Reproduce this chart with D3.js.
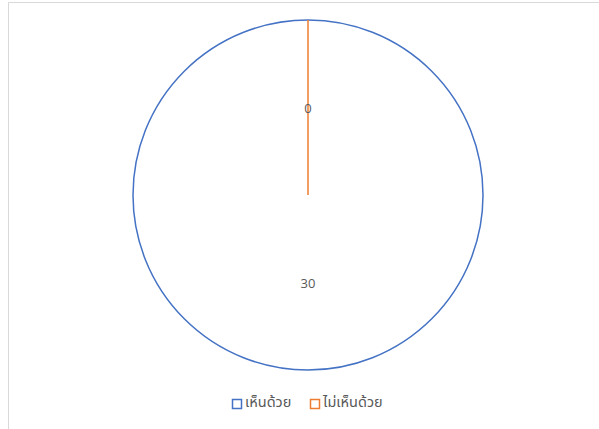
<!DOCTYPE html>
<html>
<head>
<meta charset="utf-8">
<script src="https://cdn.jsdelivr.net/npm/d3@7"></script>
<style>
  html, body { margin: 0; padding: 0; background: #fff; }
  svg { display: block; }
</style>
</head>
<body>
<svg id="chart" width="599" height="429"></svg>
<script>
// Survey answers and their counts
const categories = ["เห็นด้วย", "ไม่เห็นด้วย"];
const values = [30, 0];
const colors = ["#4472C4", "#ED7D31"];

const svg = d3.select("#chart");
const W = 599, H = 429;
const cx = 308, cy = 195, r = 175;

// Chart-area frame (light gray, open toward the right/bottom edges)
svg.append("line").attr("x1", 8.5).attr("x2", W).attr("y1", 2.5).attr("y2", 2.5)
  .attr("stroke", "#d9d9d9").attr("stroke-width", 1);
svg.append("line").attr("x1", 8.5).attr("x2", 8.5).attr("y1", 2.5).attr("y2", H)
  .attr("stroke", "#d9d9d9").attr("stroke-width", 1);

const data = categories.map((c, i) => ({ name: c, value: values[i], color: colors[i] }));

const pie = d3.pie().value(d => d.value).sort(null);
const arcs = pie(data);
const arc = d3.arc().innerRadius(0).outerRadius(r);
const labelArc = d3.arc().innerRadius(r * 0.5).outerRadius(r * 0.5);

const g = svg.append("g").attr("transform", `translate(${cx},${cy})`);

// Slices: white fill with coloured outline; draw zero slices last so their edge stays visible
const order = arcs.slice().sort((a, b) => b.data.value - a.data.value);
g.selectAll("path.slice").data(order).join("path")
  .attr("class", "slice")
  .attr("d", arc)
  .attr("fill", "#fff")
  .attr("stroke", d => d.data.color)
  .attr("stroke-width", 1.5)
  .attr("stroke-linejoin", "miter");

// Value labels at half radius
g.selectAll("text.val").data(arcs).join("text")
  .attr("class", "val")
  .attr("transform", d => {
    const [x, y] = labelArc.centroid(d);
    return `translate(${x},${y})`;
  })
  .attr("text-anchor", "middle")
  .attr("dy", "0.45em")
  .attr("font-family", "'Open Sans', 'Noto Sans', sans-serif")
  .attr("font-size", 13)
  .attr("fill", "#595959")
  .text(d => d.data.value);

// Legend
const legendItems = [
  { x: 232, data: data[0] },
  { x: 310, data: data[1] }
];
const lg = svg.append("g");
legendItems.forEach(it => {
  lg.append("rect")
    .attr("x", it.x + 0.5).attr("y", 399.5)
    .attr("width", 9).attr("height", 9)
    .attr("fill", "#fff")
    .attr("stroke", it.data.color)
    .attr("stroke-width", 1.5);
  lg.append("text")
    .attr("x", it.x + 13).attr("y", 407)
    .attr("font-family", "'Noto Sans', 'Noto Sans Thai', sans-serif")
    .attr("font-size", 14.5)
    .attr("fill", "#595959")
    .text(it.data.name);
});
</script>
</body>
</html>
